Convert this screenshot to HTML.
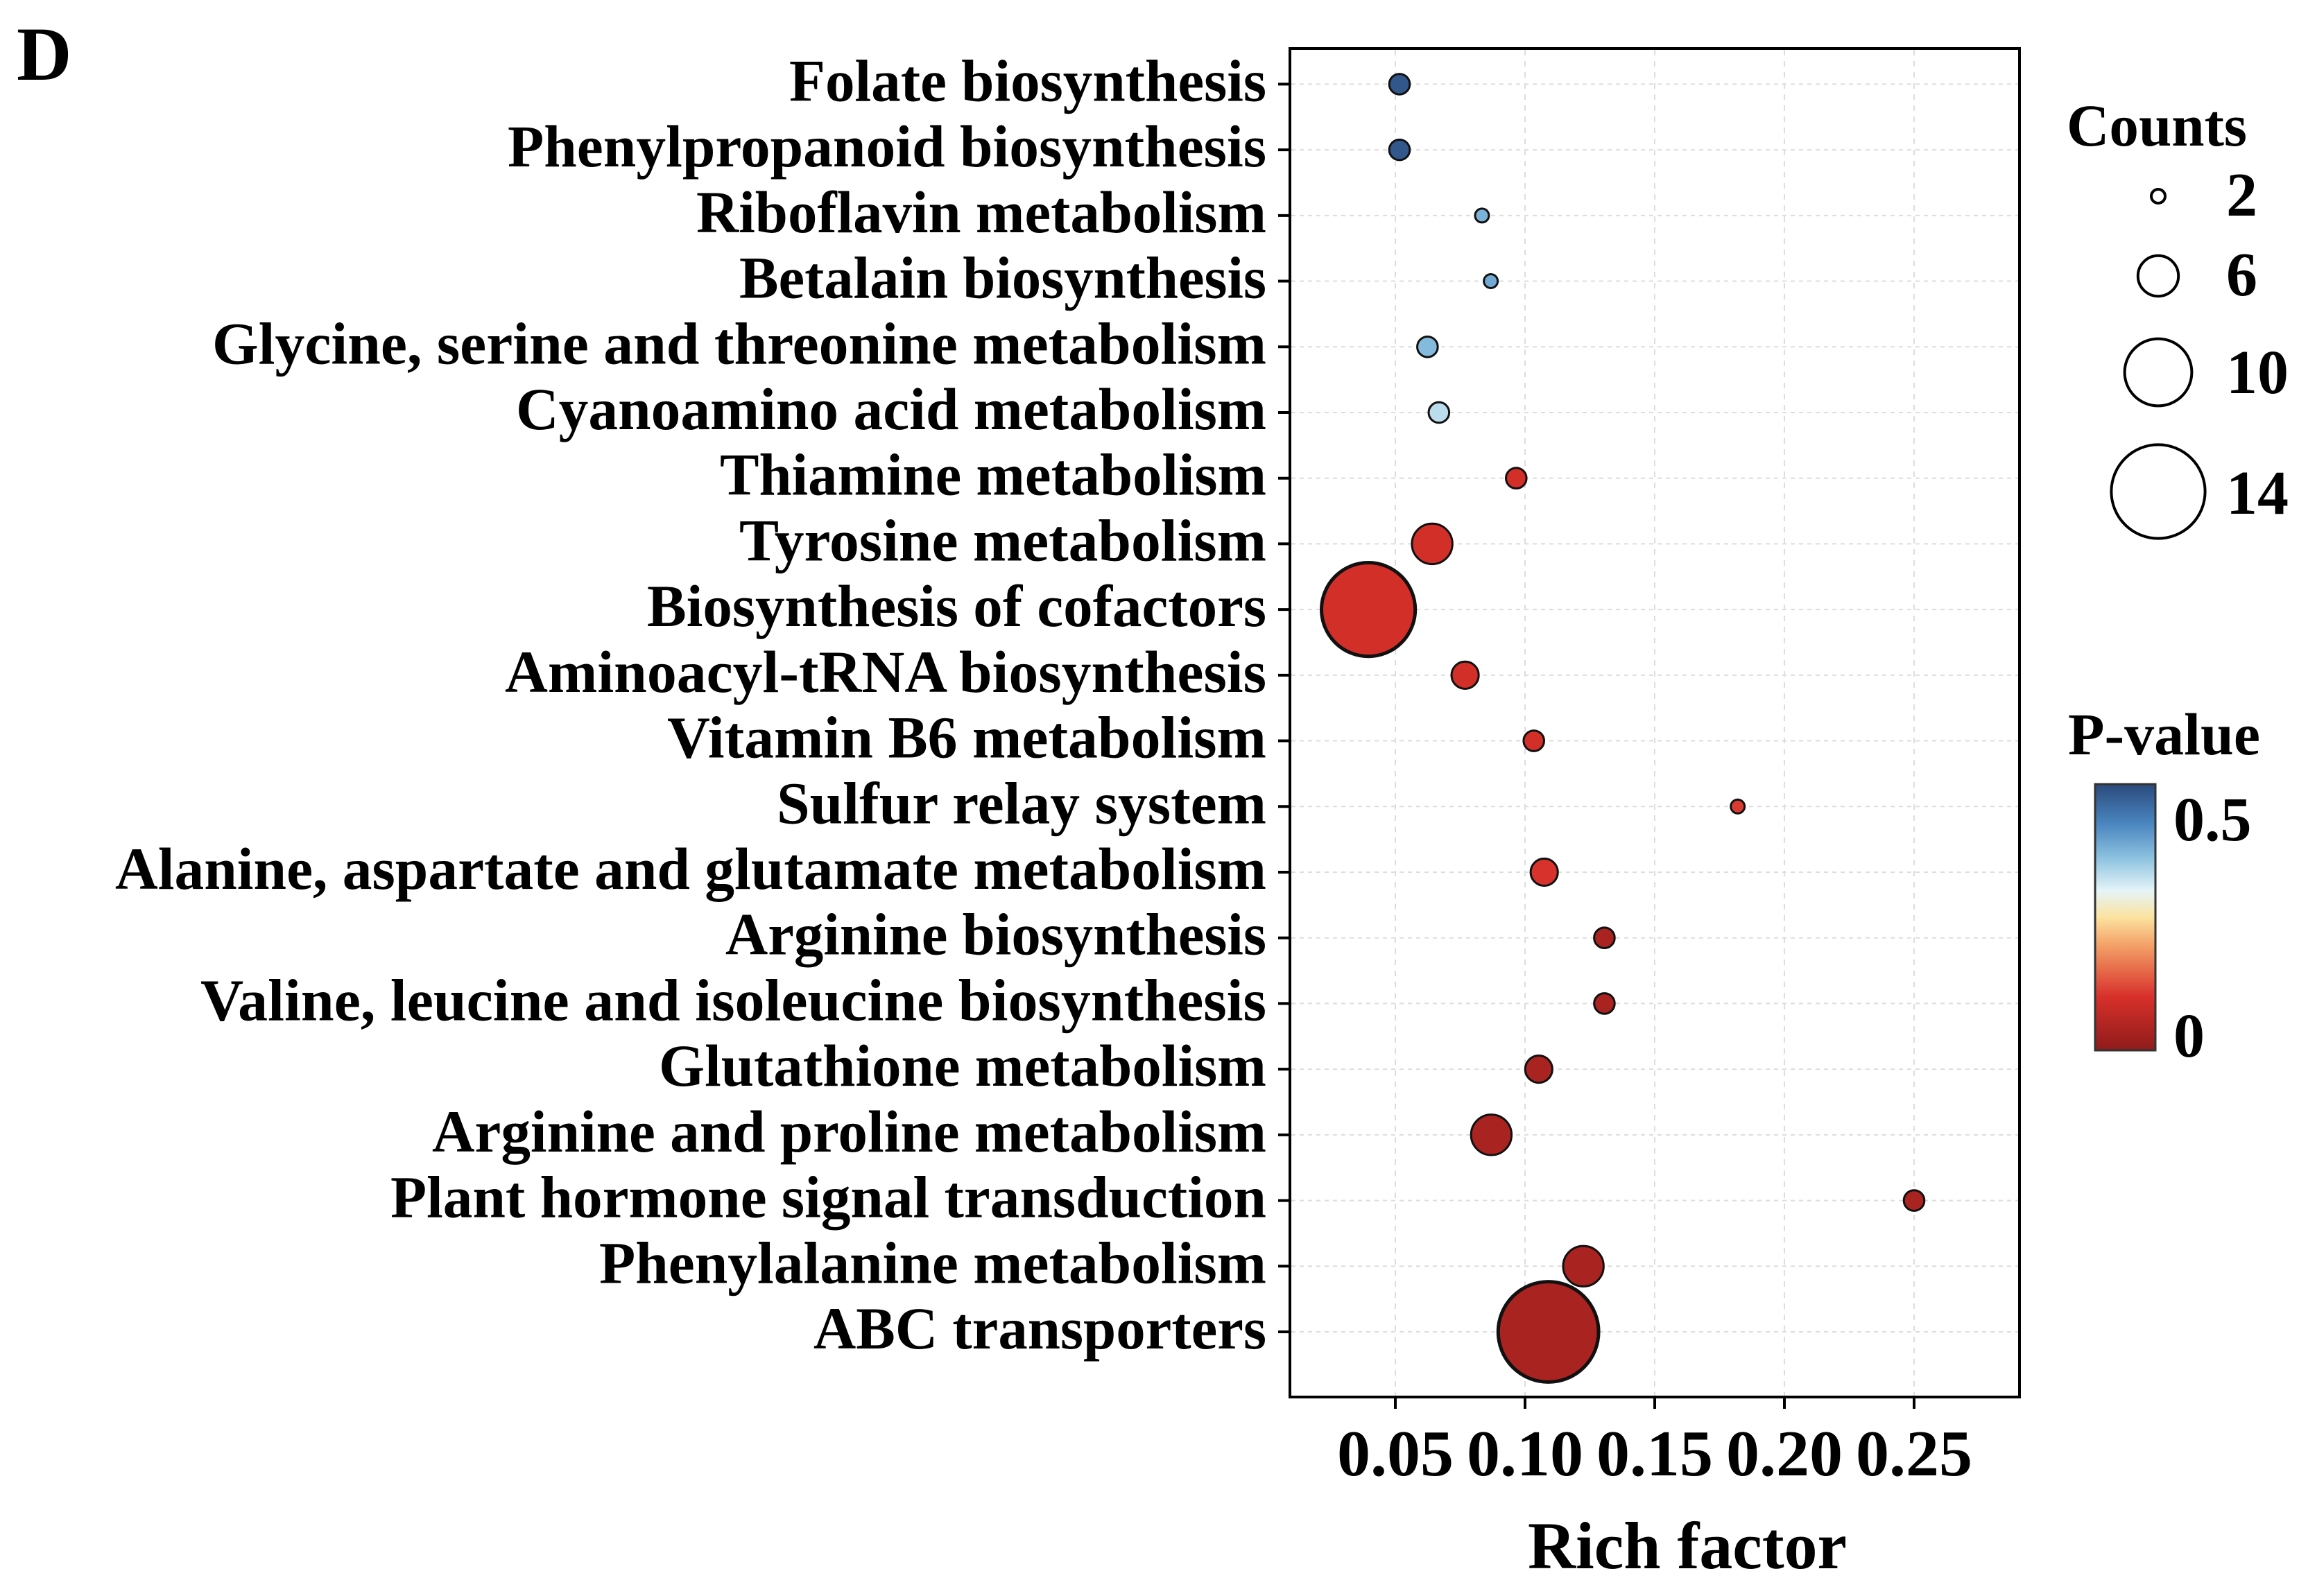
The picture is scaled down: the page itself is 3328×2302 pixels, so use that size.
<!DOCTYPE html>
<html><head><meta charset="utf-8">
<style>
html,body{margin:0;padding:0;background:#fff;}
svg{display:block;}
text{font-family:"Liberation Serif",serif;font-weight:bold;fill:#000;}
</style></head>
<body>
<svg id="chart" width="3328" height="2302" viewBox="0 0 3328 2302" xmlns="http://www.w3.org/2000/svg">
<defs>
<linearGradient id="pgrad" x1="0" y1="1" x2="0" y2="0">
<stop offset="0" stop-color="#8E1B1B"/>
<stop offset="0.2" stop-color="#D7302A"/>
<stop offset="0.4" stop-color="#F4A46A"/>
<stop offset="0.5" stop-color="#FBE3A0"/>
<stop offset="0.6" stop-color="#E5F4F8"/>
<stop offset="0.72" stop-color="#8EC3E0"/>
<stop offset="0.85" stop-color="#4A86C0"/>
<stop offset="1" stop-color="#2A4A7C"/>
</linearGradient>
</defs>
<text x="24" y="115" font-size="110">D</text>
<g id="grid"></g>
<g id="ylabels"></g>
<g id="points"></g>
<rect x="1860" y="70" width="1052" height="1945" fill="none" stroke="#000" stroke-width="4"/>
<g id="xaxis"></g>
<text x="2203" y="2262" font-size="96" textLength="460" lengthAdjust="spacingAndGlyphs">Rich factor</text>
<g id="legend"></g>
</svg>
<script>
const categories = ["Folate biosynthesis","Phenylpropanoid biosynthesis","Riboflavin metabolism","Betalain biosynthesis","Glycine, serine and threonine metabolism","Cyanoamino acid metabolism","Thiamine metabolism","Tyrosine metabolism","Biosynthesis of cofactors","Aminoacyl-tRNA biosynthesis","Vitamin B6 metabolism","Sulfur relay system","Alanine, aspartate and glutamate metabolism","Arginine biosynthesis","Valine, leucine and isoleucine biosynthesis","Glutathione metabolism","Arginine and proline metabolism","Plant hormone signal transduction","Phenylalanine metabolism","ABC transporters"];
const richFactor = [0.0516,0.0516,0.0834,0.0868,0.0624,0.0668,0.0966,0.0642,0.0396,0.0769,0.1034,0.182,0.1074,0.1306,0.1306,0.1053,0.087,0.25,0.1225,0.109];
const counts = [3,3,2,2,3,3,3,6,14,4,3,2,4,3,3,4,6,3,6,15];
const pValues = [0.56,0.56,0.43,0.44,0.42,0.37,0.08,0.08,0.08,0.08,0.08,0.1,0.09,0.01,0.01,0.01,0.01,0.01,0.01,0.01];
const labelWidths = [688,1094,822,760,1520,1082,788,760,893,1098,864,706,1660,780,1537,876,1203,1263,962,653];
const xTicks = [0.05,0.10,0.15,0.20,0.25];
const xTickLabels = ["0.05","0.10","0.15","0.20","0.25"];
const sizeBreaks = [2,6,10,14];
const pTicks = [0.5,0];
const pTickLabels = ["0.5","0"];

const NS="http://www.w3.org/2000/svg";
function mk(tag,attrs,parent){const e=document.createElementNS(NS,tag);for(const k in attrs)e.setAttribute(k,attrs[k]);parent.appendChild(e);return e;}
const X0=2012, PX_PER=187/0.05;
function xs(v){return X0+(v-0.05)*PX_PER;}
function ys(i){return 121.4+i*(1921-121.4)/19;}
function rs(c){return 4.8*c+0.4;}
const pMin=-0.035,pMax=0.58;
const stops=[[0,"#8E1B1B"],[0.2,"#D7302A"],[0.4,"#F4A46A"],[0.5,"#FBE3A0"],[0.6,"#E5F4F8"],[0.72,"#8EC3E0"],[0.85,"#4A86C0"],[1,"#2A4A7C"]];
function hex(h){return [1,3,5].map(i=>parseInt(h.substr(i,2),16));}
function color(p){let t=(p-pMin)/(pMax-pMin);t=Math.max(0,Math.min(1,t));
 for(let i=0;i<stops.length-1;i++){if(t<=stops[i+1][0]){const f=(t-stops[i][0])/(stops[i+1][0]-stops[i][0]);const a=hex(stops[i][1]),b=hex(stops[i+1][1]);return "rgb("+a.map((v,k)=>Math.round(v+(b[k]-v)*f)).join(",")+")";}}
 return stops[stops.length-1][1];}
const grid=document.getElementById('grid'),yl=document.getElementById('ylabels'),pts=document.getElementById('points'),xa=document.getElementById('xaxis'),lg=document.getElementById('legend');
xTicks.forEach((v,i)=>{
 const g=mk('line',{x1:xs(v),x2:xs(v),y1:72,y2:2013,stroke:"#ddd","stroke-width":2,"stroke-dasharray":"8,8"},grid);
 
 
 const t=mk('line',{x1:xs(v),x2:xs(v),y1:2015,y2:2032,stroke:"#000","stroke-width":4},xa);
 
 
 const tx=mk('text',{x:xs(v),y:2128,"font-size":94,"text-anchor":"middle",textLength:168,lengthAdjust:"spacingAndGlyphs"},xa);
 tx.textContent=xTickLabels[i];
 
 
});
categories.forEach((c,i)=>{
 const y=ys(i);
 const g=mk('line',{x1:1862,x2:2910,y1:y,y2:y,stroke:"#ddd","stroke-width":2,"stroke-dasharray":"6,6"},grid);
 
 
 const t=mk('line',{x1:1843,x2:1860,y1:y,y2:y,stroke:"#000","stroke-width":4},yl);
 
 
 const tx=mk('text',{x:1826,y:y+24,"font-size":86,"text-anchor":"end",textLength:labelWidths[i],lengthAdjust:"spacingAndGlyphs"},yl);
 tx.textContent=c;
 
 
 const ci=mk('circle',{cx:xs(richFactor[i]),cy:y,r:rs(counts[i]),fill:color(pValues[i]),stroke:"#111","stroke-width":counts[i]>=10?5:3},pts);
 
 
});
const ct=mk('text',{x:2980,y:210,"font-size":86,textLength:260,lengthAdjust:"spacingAndGlyphs"},lg);
ct.textContent="Counts";


const legY=[283,398,537,709], legTxtY=[311,426,567,741];
sizeBreaks.forEach((s,i)=>{
 const c=mk('circle',{cx:3112,cy:legY[i],r:rs(s),fill:"none",stroke:"#000","stroke-width":4},lg);
 
 
 const t=mk('text',{x:3210,y:legTxtY[i],"font-size":90},lg);
 t.textContent=String(s);
 
 
});
const pt=mk('text',{x:2982,y:1088,"font-size":86,textLength:277,lengthAdjust:"spacingAndGlyphs"},lg);
pt.textContent="P-value";


const CB_TOP=1131,CB_BOT=1515;
const bar=mk('rect',{x:3021,y:CB_TOP,width:87,height:CB_BOT-CB_TOP,fill:"url(#pgrad)",stroke:"#333","stroke-width":3},lg);


function cy(p){return CB_BOT-(p-pMin)/(pMax-pMin)*(CB_BOT-CB_TOP);}
pTicks.forEach((p,i)=>{
 const t=mk('text',{x:3134,y:cy(p)+31,"font-size":90},lg);
 t.textContent=pTickLabels[i];
 
 
});
</script>
</body></html>
